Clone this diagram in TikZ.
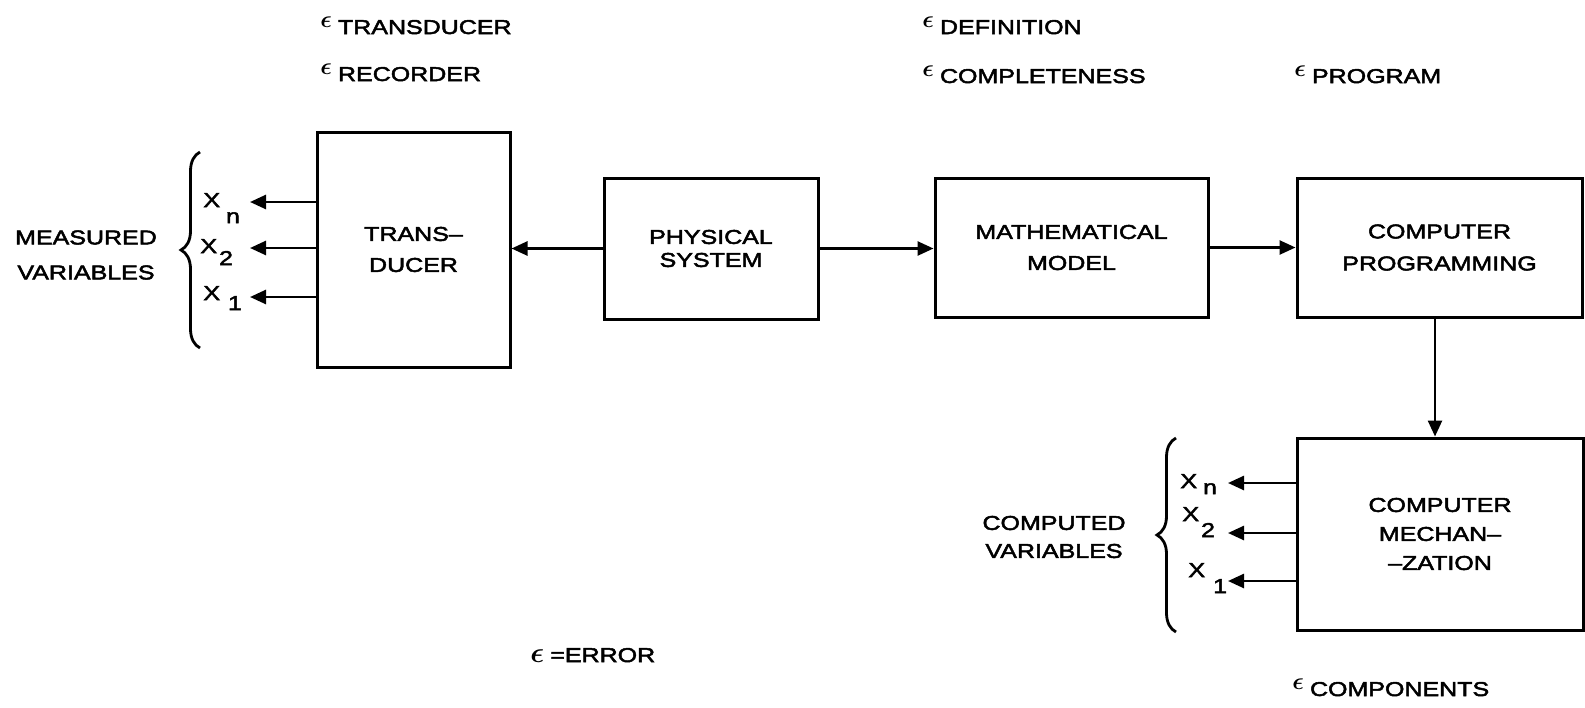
\documentclass[tikz,border=0pt]{standalone}
\usepackage{fontspec}
\newfontfamily\lblfont{Liberation Sans}[FakeStretch=1.25,FakeBold=2.5]
\usetikzlibrary{arrows.meta,decorations.pathreplacing}
\newcommand{\epsup}{\raisebox{3.5pt}{\large\boldmath$\epsilon$}\hspace{3pt}}
\begin{document}
\begin{tikzpicture}[x=0.5pt,y=-0.5pt,
  box/.style={draw,line width=1.5pt,inner sep=0pt,align=center},
  txt/.style={inner sep=0pt,font=\lblfont\fontsize{10}{12}\selectfont},
  conn/.style={line width=1.3pt,-{Triangle[length=8pt,width=7pt]}},
  brc/.style={line width=1.4pt,decorate,decoration={brace,amplitude=9.5pt}}
]
\useasboundingbox (0,0) rectangle (1585,707);

% boxes
\node[box,minimum width=96.5pt,minimum height=117.5pt,
      font={\lblfont\fontsize{10}{15.5}\selectfont}] (trans) at (413.5,249.5) {TRANS\textendash\\DUCER};
\node[box,minimum width=107pt,minimum height=70.5pt,
      font={\lblfont\fontsize{10}{11.5}\selectfont}] (phys) at (711,248.5) {PHYSICAL\\SYSTEM};
\node[box,minimum width=136.5pt,minimum height=69.5pt,
      font={\lblfont\fontsize{10}{15.5}\selectfont}] (math) at (1071.5,247.5) {MATHEMATICAL\\MODEL};
\node[box,minimum width=142.5pt,minimum height=69.5pt,
      font={\lblfont\fontsize{10}{16}\selectfont}] (prog) at (1439.5,247.5) {COMPUTER\\PROGRAMMING};
\node[box,minimum width=143pt,minimum height=96pt,
      font={\lblfont\fontsize{10}{14.5}\selectfont}] (mech) at (1440,534) {COMPUTER\\MECHAN\textendash\\\textendash ZATION};

% main connectors
\draw[conn] (phys.west) -- (phys.west -| trans.east);
\draw[conn] (phys.east) -- (phys.east -| math.west);
\draw[conn] (math.east) -- (math.east -| prog.west);
\coordinate (vtop) at (1435,317);
\draw[conn] (prog.south -| vtop) -- (mech.north -| vtop);

% measured variables outputs
\coordinate (mn) at (250,202);
\coordinate (m2) at (250,248);
\coordinate (m1) at (250,297);
\draw[conn] (trans.west |- mn) -- (mn);
\draw[conn] (trans.west |- m2) -- (m2);
\draw[conn] (trans.west |- m1) -- (m1);
\node[txt,anchor=base west] (lmn) at (203,207) {X\hspace{3pt}\raisebox{-8pt}{n}};
\node[txt,anchor=base west] (lm2) at (200,253) {X\hspace{1pt}\raisebox{-6pt}{2}};
\node[txt,anchor=base west] (lm1) at (203,300) {X\hspace{4pt}\raisebox{-5pt}{1}};
\draw[brc] (200,348) -- (200,152);
\node[txt,align=center,font={\lblfont\fontsize{10}{17.5}\selectfont}] (meas) at (86,255) {MEASURED\\VARIABLES};

% computed variables outputs
\coordinate (cn) at (1228,483);
\coordinate (c2) at (1228,533);
\coordinate (c1) at (1228,581);
\draw[conn] (mech.west |- cn) -- (cn);
\draw[conn] (mech.west |- c2) -- (c2);
\draw[conn] (mech.west |- c1) -- (c1);
\node[txt,anchor=base west] (lcn) at (1180,488) {X\hspace{3pt}\raisebox{-3pt}{n}};
\node[txt,anchor=base west] (lc2) at (1182,521) {X\hspace{1pt}\raisebox{-8pt}{2}};
\node[txt,anchor=base west] (lc1) at (1188,577) {X\hspace{4pt}\raisebox{-8pt}{1}};
\draw[brc] (1176,632) -- (1176,438);
\node[txt,align=center,font={\lblfont\fontsize{10}{14}\selectfont}] (comp) at (1054,537) {COMPUTED\\VARIABLES};

% error labels
\node[txt,anchor=base west] (etr) at (320,34) {\epsup TRANSDUCER};
\node[txt,anchor=base west] (erc) at (320,81) {\epsup RECORDER};
\node[txt,anchor=base west] (edf) at (922,34) {\epsup DEFINITION};
\node[txt,anchor=base west] (ecp) at (922,83) {\epsup COMPLETENESS};
\node[txt,anchor=base west] (epg) at (1294,83) {\epsup PROGRAM};
\node[txt,anchor=base west] (ecm) at (1292,696) {\epsup COMPONENTS};
\node[txt,anchor=base west] (eer) at (530,662) {{\Large\boldmath$\epsilon$}\hspace{3pt}=ERROR};
\end{tikzpicture}
\end{document}
